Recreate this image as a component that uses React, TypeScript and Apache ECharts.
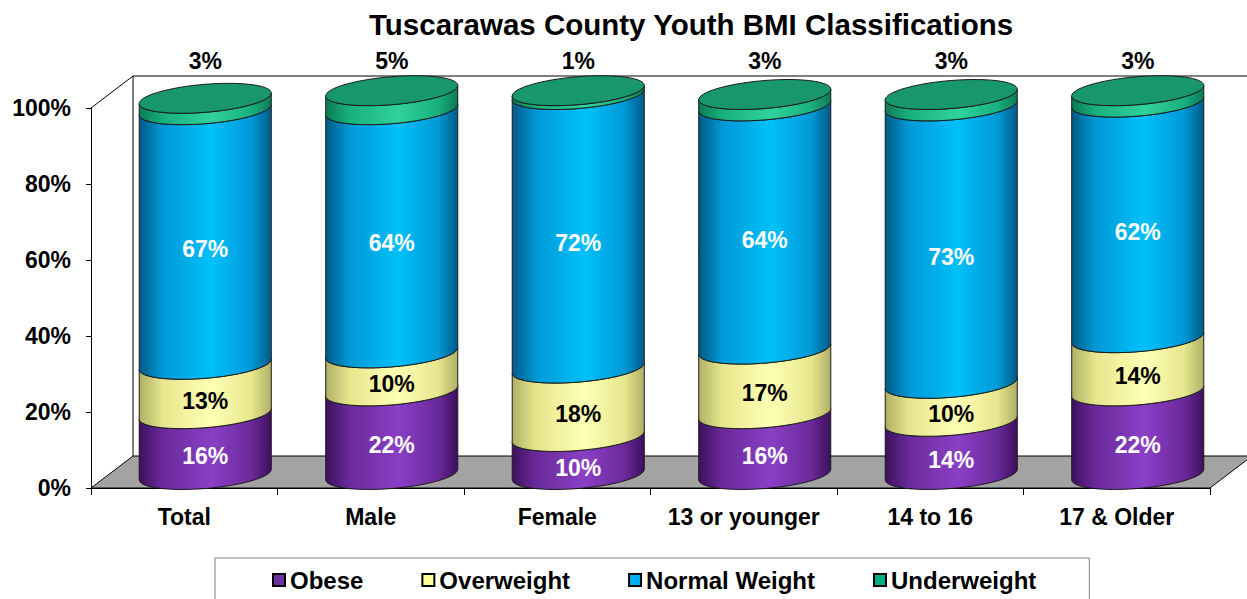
import React, { useEffect, useRef } from 'react';
import * as echarts from 'echarts';

const categories = ['Total', 'Male', 'Female', '13 or younger', '14 to 16', '17 & Older'];
const obese = [16, 22, 10, 16, 14, 22];
const overweight = [13, 10, 18, 17, 10, 14];
const normalWeight = [67, 64, 72, 64, 73, 62];
const underweight = [3, 5, 1, 3, 3, 3];
const seriesNames = ['Obese', 'Overweight', 'Normal Weight', 'Underweight'];

const FONT = 'Arial, "Liberation Sans", sans-serif';

// geometry (styling only)
const GL = 91, GT = 108, GR = 1210, GB = 488;
const DEPTH_X = 42, DEPTH_Y = -32;
const CYL_DX = 21, CYL_DY = -13.5;
const RY = 14, SHEAR = 0.08;

const palettes = [
  { dark: '#3d105e', mid: '#6a2a9a', light: '#8a3fc6', legend: '#7030a0', label: '#ffffff' },
  { dark: '#b0b066', mid: '#e6e68e', light: '#ffffb4', legend: '#ffff99', label: '#000000' },
  { dark: '#005a86', mid: '#0099d6', light: '#00c0fa', legend: '#00b0f0', label: '#ffffff' },
  { dark: '#0b7a55', mid: '#18b07e', light: '#30d29c', legend: '#00b080', label: '#000000', top: '#17976b' },
];

function makeRender(k: number) {
  return (params: any, api: any) => {
    const idx = api.value(0);
    const start = api.value(1);
    const val = api.value(2);
    const p0 = api.coord([idx, start]);
    const p1 = api.coord([idx, start + val]);
    const band = api.size([1, 0])[0];
    const rx = band * 0.354;
    const cx = p0[0] + CYL_DX;
    const yb = p0[1] + CYL_DY;
    const yt = p1[1] + CYL_DY;
    const N = 48;
    const pts: number[][] = [];
    for (let j = 0; j <= N; j++) {
      const t = Math.PI - (Math.PI * j) / N;
      const x = cx + rx * Math.cos(t);
      pts.push([x, yb + RY * Math.sin(t) - SHEAR * (x - cx)]);
    }
    for (let j = 0; j <= N; j++) {
      const t = (Math.PI * j) / N;
      const x = cx + rx * Math.cos(t);
      pts.push([x, yt + RY * Math.sin(t) - SHEAR * (x - cx)]);
    }
    const pal = palettes[k];
    const fill = new echarts.graphic.LinearGradient(0, 0, 1, 0, [
      { offset: 0, color: pal.dark },
      { offset: 0.18, color: pal.mid },
      { offset: 0.55, color: pal.light },
      { offset: 0.85, color: pal.mid },
      { offset: 1, color: pal.dark },
    ]);
    const children: any[] = [
      {
        type: 'polygon',
        shape: { points: pts },
        style: { fill, stroke: '#1a1a1a', lineWidth: 1 },
      },
    ];
    if (k === 3) {
      const top: number[][] = [];
      for (let j = 0; j < 96; j++) {
        const t = (2 * Math.PI * j) / 96;
        const x = cx + rx * Math.cos(t);
        top.push([x, yt + RY * Math.sin(t) - SHEAR * (x - cx)]);
      }
      children.push({
        type: 'polygon',
        shape: { points: top },
        style: { fill: pal.top, stroke: '#1a1a1a', lineWidth: 1 },
      });
      const ly = api.coord([idx, 100])[1] - 47;
      children.push({
        type: 'text',
        style: {
          text: val + '%', x: cx, y: ly, align: 'center', verticalAlign: 'middle',
          fill: '#000', fontSize: 23, fontWeight: 'bold', fontFamily: FONT,
        },
      });
    } else {
      children.push({
        type: 'text',
        style: {
          text: val + '%', x: cx, y: (yb + yt) / 2 + 12, align: 'center', verticalAlign: 'middle',
          fill: pal.label, fontSize: 23, fontWeight: 'bold', fontFamily: FONT,
        },
      });
    }
    return { type: 'group', children };
  };
}

export default function App() {
  const ref = useRef<HTMLDivElement>(null);
  useEffect(() => {
    if (!ref.current) return;
    const chart = echarts.init(ref.current, undefined, { renderer: 'svg' });
    const stacks = [obese, overweight, normalWeight, underweight];
    const bases = categories.map(() => 0);
    const series = stacks.map((vals, k) => {
      const data = categories.map((_, i) => {
        const d = [i, bases[i], vals[i]];
        bases[i] += vals[i];
        return d;
      });
      return {
        type: 'custom',
        name: seriesNames[k],
        renderItem: makeRender(k),
        encode: { x: 0, y: 2 },
        itemStyle: { color: palettes[k].legend, borderColor: '#000', borderWidth: 1.5 },
        data,
        z: 5,
      };
    });
    chart.setOption({
      animation: false,
      backgroundColor: '#ffffff',
      title: {
        text: 'Tuscarawas County Youth BMI Classifications',
        left: 364,
        top: 4,
        textStyle: { fontSize: 29.5, fontWeight: 'bold', fontFamily: FONT, color: '#000' },
      },
      grid: { left: GL, top: GT, right: 1247 - GR, bottom: 599 - GB, containLabel: false },
      xAxis: {
        type: 'category',
        data: categories,
        boundaryGap: true,
        axisLine: { show: true, lineStyle: { color: '#000', width: 1 } },
        axisTick: { show: true, length: 7, lineStyle: { color: '#000' } },
        axisLabel: { margin: 17, color: '#000', fontSize: 23, fontWeight: 'bold', fontFamily: FONT, interval: 0 },
      },
      yAxis: {
        type: 'value',
        min: 0,
        max: 100,
        interval: 20,
        axisLine: { show: true, lineStyle: { color: '#000', width: 1 } },
        axisTick: { show: true, length: 5, lineStyle: { color: '#000' } },
        splitLine: { show: false },
        axisLabel: { formatter: '{value}%', margin: 20, color: '#000', fontSize: 23, fontWeight: 'bold', fontFamily: FONT },
      },
      legend: {
        data: seriesNames,
        left: 215,
        top: 558,
        padding: [10, 53, 24, 57],
        itemGap: 58,
        itemWidth: 12,
        itemHeight: 12,
        icon: 'rect',
        selectedMode: false,
        borderColor: '#7f7f7f',
        borderWidth: 1,
        backgroundColor: '#fff',
        textStyle: { fontSize: 24, fontWeight: 'bold', fontFamily: FONT, color: '#000' },
      },
      graphic: {
        elements: [
          {
            type: 'polygon',
            z: -10,
            shape: { points: [[GL, GB], [GL + DEPTH_X, GB + DEPTH_Y], [GR + DEPTH_X, GB + DEPTH_Y], [GR, GB]] },
            style: { fill: '#a3a3a3', stroke: '#000', lineWidth: 1 },
          },
          {
            type: 'polyline',
            z: -10,
            shape: { points: [[GL, GT], [GL + DEPTH_X, GT + DEPTH_Y], [GR + DEPTH_X, GT + DEPTH_Y]] },
            style: { stroke: '#000', lineWidth: 1, fill: 'none' },
          },
          {
            type: 'line',
            z: -10,
            shape: { x1: GL + DEPTH_X, y1: GT + DEPTH_Y, x2: GL + DEPTH_X, y2: GB + DEPTH_Y },
            style: { stroke: '#000', lineWidth: 1 },
          },
        ],
      },
      series,
    });
    return () => chart.dispose();
  }, []);
  return <div ref={ref} style={{ position: 'fixed', left: 0, top: 0, width: 1247, height: 599 }} />;
}
